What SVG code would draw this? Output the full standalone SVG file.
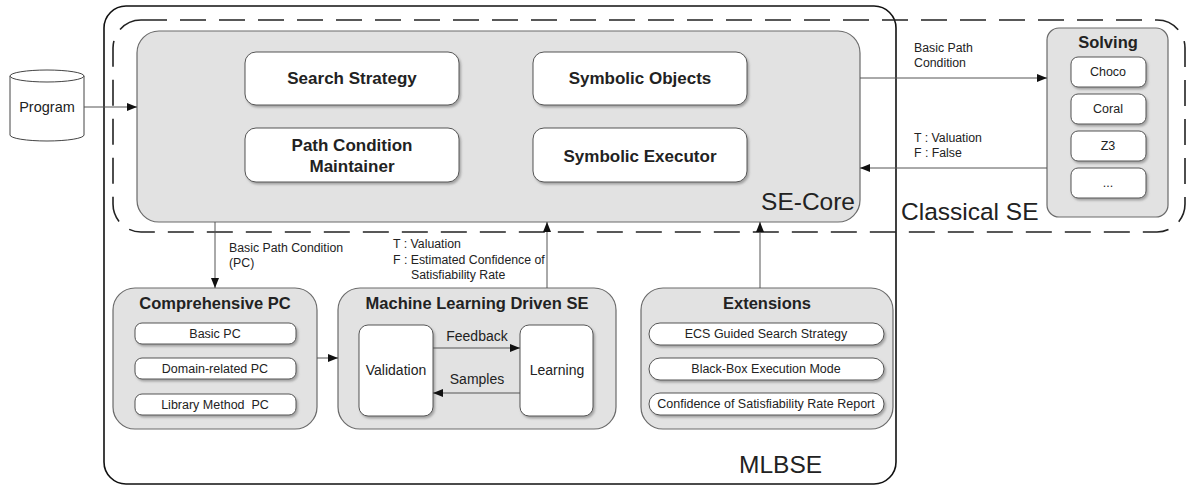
<svg xmlns="http://www.w3.org/2000/svg" width="1188" height="486" viewBox="0 0 1188 486">
<defs>
<filter id="sh" x="-10%" y="-10%" width="130%" height="140%">
<feDropShadow dx="1.5" dy="2" stdDeviation="1.2" flood-color="#777" flood-opacity="0.6"/>
</filter>
<marker id="ah" viewBox="0 0 10 8" refX="10" refY="4" markerWidth="10" markerHeight="8" markerUnits="userSpaceOnUse" orient="auto">
<path d="M0,0 L10,4 L0,8 Z" fill="#111"/>
</marker>
<style>
text{font-family:"Liberation Sans",Arial,sans-serif;fill:#222}
.grp{fill:#e2e2e2;stroke:#6a6a6a;stroke-width:1.2}
.box{fill:#fff;stroke:#555;stroke-width:1;filter:url(#sh)}
.bt{font-size:17px;font-weight:bold;text-anchor:middle}
.tt{font-size:16.5px;font-weight:bold;text-anchor:middle}
.it{font-size:12.5px;text-anchor:middle}
.lb{font-size:12.3px}
.big{font-size:24.5px}
.con{stroke:#555;stroke-width:1;fill:none;marker-end:url(#ah)}
</style>
</defs>

<g id="mlbse">
<rect x="104" y="6" width="792" height="478" rx="22" fill="none" stroke="#111" stroke-width="1.6"/>
<text class="big" x="739" y="473">MLBSE</text>
</g>

<g id="classical-se">
<rect x="113" y="20" width="1072" height="212" rx="28" fill="none" stroke="#222" stroke-width="1.6" stroke-dasharray="26 13"/>
<text class="big" x="901" y="220">Classical SE</text>
</g>

<g id="program">
<path d="M10,76 L10,135 A37,6 0 0 0 84,135 L84,76" fill="#fff" stroke="#444" stroke-width="1"/>
<ellipse cx="47" cy="76" rx="37" ry="6" fill="#fff" stroke="#444" stroke-width="1"/>
<text x="47" y="112" font-size="14.5" text-anchor="middle">Program</text>
</g>

<g id="se-core">
<rect class="grp" x="137" y="31" width="723" height="191" rx="22"/>
<text class="big" x="855" y="210" text-anchor="end">SE-Core</text>
</g>
<g id="search-strategy">
<rect class="box" x="245" y="52" width="214" height="53" rx="11"/>
<text class="bt" x="352" y="84">Search Strategy</text>
</g>
<g id="symbolic-objects">
<rect class="box" x="533" y="52" width="214" height="53" rx="11"/>
<text class="bt" x="640" y="84">Symbolic Objects</text>
</g>
<g id="pc-maintainer">
<rect class="box" x="245" y="128" width="214" height="54" rx="11"/>
<text class="bt" x="352" y="151">Path Condition</text>
<text class="bt" x="352" y="172">Maintainer</text>
</g>
<g id="symbolic-executor">
<rect class="box" x="533" y="128" width="214" height="54" rx="11"/>
<text class="bt" x="640" y="162">Symbolic Executor</text>
</g>

<g id="solving">
<rect class="grp" x="1047" y="28" width="121" height="189" rx="12"/>
<text class="tt" x="1108" y="48">Solving</text>
<rect class="box" x="1071" y="57" width="75" height="30" rx="7"/>
<text class="it" x="1108" y="76">Choco</text>
<rect class="box" x="1071" y="94" width="75" height="30" rx="7"/>
<text class="it" x="1108" y="113">Coral</text>
<rect class="box" x="1071" y="131" width="75" height="30" rx="7"/>
<text class="it" x="1108" y="150">Z3</text>
<rect class="box" x="1071" y="168" width="75" height="30" rx="7"/>
<text class="it" x="1108" y="187">...</text>
</g>

<g id="comprehensive-pc">
<rect class="grp" x="113" y="288" width="204" height="141" rx="22"/>
<text class="tt" x="215" y="309">Comprehensive PC</text>
<rect class="box" x="135" y="323" width="161" height="21" rx="7"/>
<text class="it" x="215" y="338">Basic PC</text>
<rect class="box" x="135" y="358" width="161" height="21" rx="7"/>
<text class="it" x="215" y="373">Domain-related PC</text>
<rect class="box" x="135" y="394" width="161" height="21" rx="7"/>
<text class="it" x="215" y="409">Library Method&#160; PC</text>
</g>

<g id="ml-driven-se">
<rect class="grp" x="338" y="288" width="278" height="141" rx="22"/>
<text class="tt" x="477" y="309">Machine Learning Driven SE</text>
</g>
<g id="validation">
<rect class="box" x="359" y="325" width="74" height="91" rx="9"/>
<text x="396" y="375" font-size="14" text-anchor="middle">Validation</text>
</g>
<g id="learning">
<rect class="box" x="520" y="325" width="73" height="91" rx="9"/>
<text x="557" y="375" font-size="14" text-anchor="middle">Learning</text>
</g>

<g id="extensions">
<rect class="grp" x="641" y="288" width="252" height="141" rx="22"/>
<text class="tt" x="767" y="309">Extensions</text>
<rect class="box" x="649" y="323" width="235" height="22" rx="11"/>
<text class="it" x="766" y="338">ECS Guided Search Strategy</text>
<rect class="box" x="649" y="358" width="235" height="22" rx="11"/>
<text class="it" x="766" y="373">Black-Box Execution Mode</text>
<rect class="box" x="649" y="393" width="235" height="22" rx="11"/>
<text class="it" x="766" y="408">Confidence of Satisfiability Rate Report</text>
</g>

<g id="connectors">
<line class="con" x1="84" y1="107" x2="137" y2="107"/>
<line class="con" x1="860" y1="78" x2="1047" y2="78"/>
<line class="con" x1="1047" y1="168" x2="860" y2="168"/>
<line class="con" x1="215" y1="222" x2="215" y2="288"/>
<line class="con" x1="547" y1="288" x2="547" y2="222"/>
<line class="con" x1="760" y1="288" x2="760" y2="222"/>
<line class="con" x1="317" y1="358" x2="338" y2="358"/>
<line class="con" x1="433" y1="348" x2="520" y2="348"/>
<line class="con" x1="520" y1="393" x2="433" y2="393"/>
<text class="lb" x="914" y="52">Basic Path</text>
<text class="lb" x="914" y="67">Condition</text>
<text class="lb" x="914" y="142">T : Valuation</text>
<text class="lb" x="914" y="157">F : False</text>
<text class="lb" x="229" y="252">Basic Path Condition</text>
<text class="lb" x="229" y="267">(PC)</text>
<text class="lb" x="393" y="248">T : Valuation</text>
<text class="lb" x="393" y="264">F : Estimated Confidence of</text>
<text class="lb" x="411" y="279">Satisfiability Rate</text>
<text x="477" y="341" font-size="14" text-anchor="middle">Feedback</text>
<text x="477" y="384" font-size="14" text-anchor="middle">Samples</text>
</g>
</svg>
